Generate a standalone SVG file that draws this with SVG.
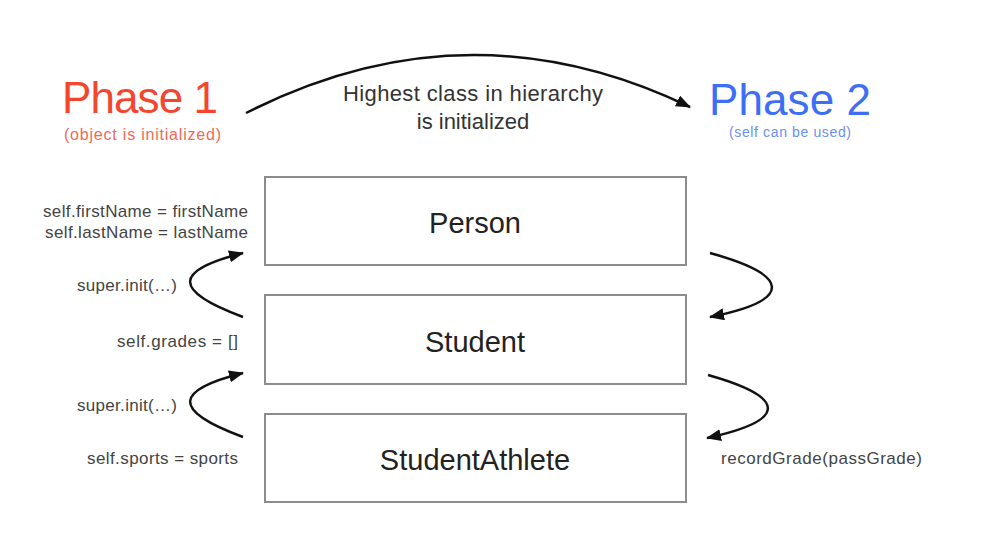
<svg xmlns="http://www.w3.org/2000/svg" width="984" height="534" viewBox="0 0 984 534">
<style>
text{font-family:"Liberation Sans",Arial,sans-serif}
.box{fill:#fff;stroke:#8c8c8c;stroke-width:2}
.name{font-size:29px;fill:#222;text-anchor:middle}
.lbl{font-size:17px;fill:#444}
.r{text-anchor:end}
.arr{fill:none;stroke:#111;stroke-width:2.5;marker-end:url(#ah)}
</style>
<defs>
<marker id="ah" markerUnits="userSpaceOnUse" markerWidth="16" markerHeight="12" refX="14" refY="6" orient="auto">
<path d="M0,0 L15,6 L0,12 Z" fill="#111"/>
</marker>
</defs>
<rect width="984" height="534" fill="#fff"/>
<g id="phase1">
<text x="62" y="113" font-size="44" fill="#f4452f" textLength="156">Phase 1</text>
<text x="64" y="140" font-size="16" fill="#f26855" textLength="157">(object is initialized)</text>
</g>
<g id="phase2">
<text x="709" y="115" font-size="44" fill="#3d6ef5" textLength="162">Phase 2</text>
<text x="729" y="137" font-size="14" fill="#6a8ff2" textLength="122">(self can be used)</text>
</g>
<g id="caption">
<text x="343" y="101" font-size="22" fill="#333" textLength="260">Highest class in hierarchy</text>
<text x="473" y="129" font-size="22" fill="#333" text-anchor="middle">is initialized</text>
</g>
<g id="person">
<rect class="box" x="265" y="177" width="421" height="88"/>
<text class="name" x="475" y="233">Person</text>
</g>
<g id="student">
<rect class="box" x="265" y="295" width="421" height="89"/>
<text class="name" x="475" y="352">Student</text>
</g>
<g id="studentAthlete">
<rect class="box" x="265" y="414" width="421" height="88"/>
<text class="name" x="475" y="470">StudentAthlete</text>
</g>
<g id="labels">
<text class="lbl" x="43" y="217" textLength="205">self.firstName = firstName</text>
<text class="lbl" x="45" y="238" textLength="203">self.lastName = lastName</text>
<text class="lbl" x="77" y="291" textLength="100">super.init(…)</text>
<text class="lbl" x="117" y="347" textLength="121">self.grades = []</text>
<text class="lbl" x="77" y="411" textLength="100">super.init(…)</text>
<text class="lbl" x="87" y="464" textLength="151">self.sports = sports</text>
<text class="lbl" x="721" y="464" textLength="201">recordGrade(passGrade)</text>
</g>
<g id="connectors">
<path class="arr" d="M246,113 Q468,0 690,107"/>
<path class="arr" d="M243,317 C170,290 175,270 243,253"/>
<path class="arr" d="M243,437 C170,410 175,390 243,373"/>
<path class="arr" d="M710,253 C790,275 795,300 710,317"/>
<path class="arr" d="M708,375 C786,397 790,420 707,438"/>
</g>
</svg>
